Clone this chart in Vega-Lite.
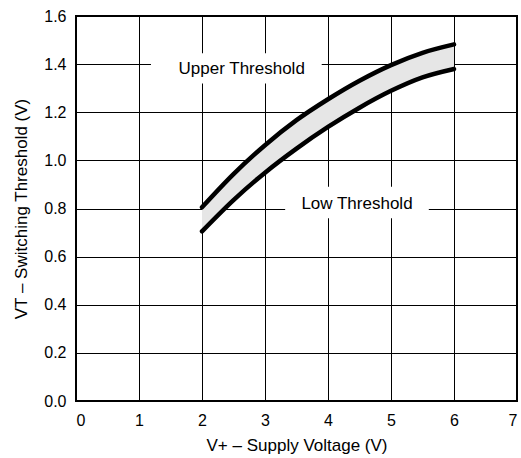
{
  "$schema": "https://vega.github.io/schema/vega-lite/v6.json",
  "autosize": "none",
  "width": 441,
  "height": 385,
  "padding": {"left": 76, "top": 16, "right": 4, "bottom": 57},
  "background": "white",
  "config": {
    "view": {"stroke": "black", "strokeWidth": 2},
    "font": "Liberation Sans",
    "axis": {
      "grid": true,
      "gridColor": "black",
      "gridOpacity": 1,
      "gridWidth": 1,
      "domain": false,
      "ticks": false,
      "labelFont": "Liberation Sans",
      "labelFontSize": 16,
      "labelColor": "black",
      "titleFont": "Liberation Sans",
      "titleFontSize": 17,
      "titleFontWeight": "normal",
      "titleColor": "black"
    }
  },
  "datasets": {
    "curve": [
      {"v": 2.0, "upper": 0.805, "lower": 0.705},
      {"v": 2.5, "upper": 0.943, "lower": 0.835},
      {"v": 3.0, "upper": 1.063, "lower": 0.949},
      {"v": 3.5, "upper": 1.167, "lower": 1.049},
      {"v": 4.0, "upper": 1.254, "lower": 1.139},
      {"v": 4.5, "upper": 1.331, "lower": 1.219},
      {"v": 5.0, "upper": 1.396, "lower": 1.289},
      {"v": 5.5, "upper": 1.447, "lower": 1.345},
      {"v": 6.0, "upper": 1.482, "lower": 1.38}
    ],
    "labels": [
      {"text": "Upper Threshold", "x": 2.63, "y": 1.38, "x1": 1.19, "x2": 3.9, "y1": 1.32, "y2": 1.445},
      {"text": "Low Threshold", "x": 4.46, "y": 0.82, "x1": 3.32, "x2": 5.6, "y1": 0.76, "y2": 0.89}
    ]
  },
  "layer": [
    {
      "data": {"name": "labels"},
      "mark": {"type": "rect", "fill": "white", "stroke": null},
      "encoding": {
        "x": {"field": "x1", "type": "quantitative", "scale": {"domain": [0, 7]}, "axis": {"values": [0,1,2,3,4,5,6,7], "format": "d", "title": "V+ – Supply Voltage (V)", "labelPadding": 11, "titlePadding": 9}},
        "x2": {"field": "x2"},
        "y": {"field": "y1", "type": "quantitative", "scale": {"domain": [0, 1.6]}, "axis": {"values": [0,0.2,0.4,0.6,0.8,1.0,1.2,1.4,1.6], "format": ".1f", "title": "VT – Switching Threshold (V)", "labelPadding": 10, "titlePadding": 13}},
        "y2": {"field": "y2"}
      }
    },
    {
      "data": {"name": "curve"},
      "mark": {"type": "area", "color": "#e6e6e6", "interpolate": "monotone"},
      "encoding": {
        "x": {"field": "v", "type": "quantitative"},
        "y": {"field": "lower", "type": "quantitative"},
        "y2": {"field": "upper"}
      }
    },
    {
      "data": {"name": "curve"},
      "mark": {"type": "line", "color": "black", "strokeWidth": 4.5, "interpolate": "monotone", "strokeCap": "round"},
      "encoding": {
        "x": {"field": "v", "type": "quantitative"},
        "y": {"field": "upper", "type": "quantitative"}
      }
    },
    {
      "data": {"name": "curve"},
      "mark": {"type": "line", "color": "black", "strokeWidth": 4.5, "interpolate": "monotone", "strokeCap": "round"},
      "encoding": {
        "x": {"field": "v", "type": "quantitative"},
        "y": {"field": "lower", "type": "quantitative"}
      }
    },
    {
      "data": {"name": "labels"},
      "mark": {"type": "text", "fontSize": 17, "font": "Liberation Sans", "color": "black", "align": "center", "baseline": "middle"},
      "encoding": {
        "x": {"field": "x", "type": "quantitative"},
        "y": {"field": "y", "type": "quantitative"},
        "text": {"field": "text"}
      }
    }
  ]
}
